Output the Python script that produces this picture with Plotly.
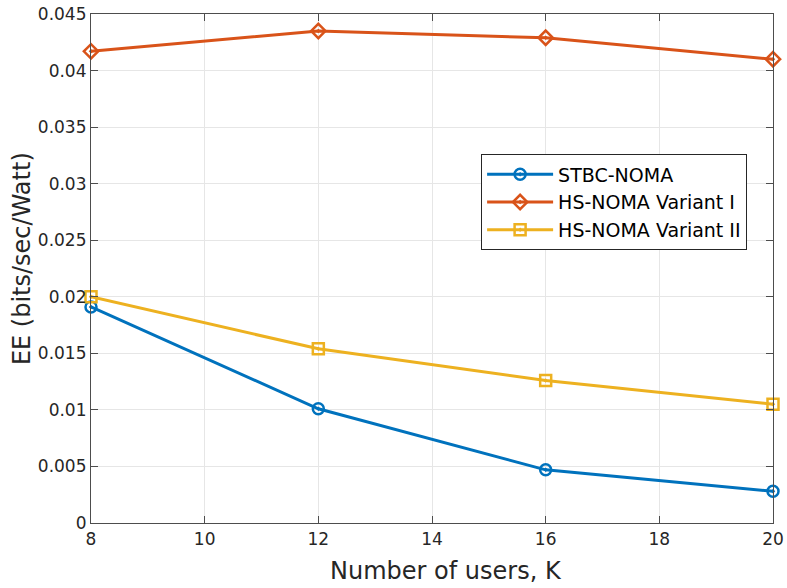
import plotly.graph_objects as go

K = [8, 12, 16, 20]
stbc = [0.0191, 0.0101, 0.0047, 0.0028]
hs1 = [0.0417, 0.0435, 0.0429, 0.0410]
hs2 = [0.0200, 0.0154, 0.0126, 0.0105]
names = ["STBC-NOMA", "HS-NOMA Variant I", "HS-NOMA Variant II"]
colors = ["#0072BD", "#D95319", "#EDB120"]
symbols = ["circle-open-dot", "diamond-open-dot", "square-open-dot"]

fig = go.Figure()
for ys, n, c, s in zip([stbc, hs1, hs2], names, colors, symbols):
    fig.add_trace(go.Scatter(x=K, y=ys, name=n, mode="lines+markers", cliponaxis=False,
                             line=dict(color=c, width=3),
                             marker=dict(symbol=s, size=11, color=c, line=dict(width=2.5, color=c))))

axis_common = dict(showline=True, linecolor="#4d4d4d", linewidth=1.2, mirror="ticks",
                   ticks="inside", ticklen=7, tickcolor="#4d4d4d", automargin=False,
                   showgrid=True, gridcolor="#e6e6e6", gridwidth=1, zeroline=False,
                   tickfont=dict(family="DejaVu Sans", size=17, color="#262626"))
fig.update_xaxes(range=[8, 20], dtick=2, **axis_common)
fig.update_yaxes(range=[0, 0.045], dtick=0.005, tickformat="~g", **axis_common)

title_font = dict(family="DejaVu Sans", size=24, color="#262626")
fig.add_annotation(text="Number of users, K", xref="paper", yref="paper",
                   x=0.52, y=-0.095, xanchor="center", yanchor="middle",
                   showarrow=False, font=title_font)
fig.add_annotation(text="EE (bits/sec/Watt)", xref="paper", yref="paper",
                   x=-0.1, y=0.52, xanchor="center", yanchor="middle", textangle=-90,
                   showarrow=False, font=title_font)

fig.update_layout(width=787, height=588, plot_bgcolor="white", paper_bgcolor="white",
                  margin=dict(l=91, r=14, t=14, b=65),
                  legend=dict(x=0.572, y=0.724, xanchor="left", yanchor="top",
                              bgcolor="white", bordercolor="#262626", borderwidth=1,
                              font=dict(family="DejaVu Sans", size=19, color="#000000"),
                              itemwidth=66, tracegroupgap=0))
fig.write_html("out.html")
